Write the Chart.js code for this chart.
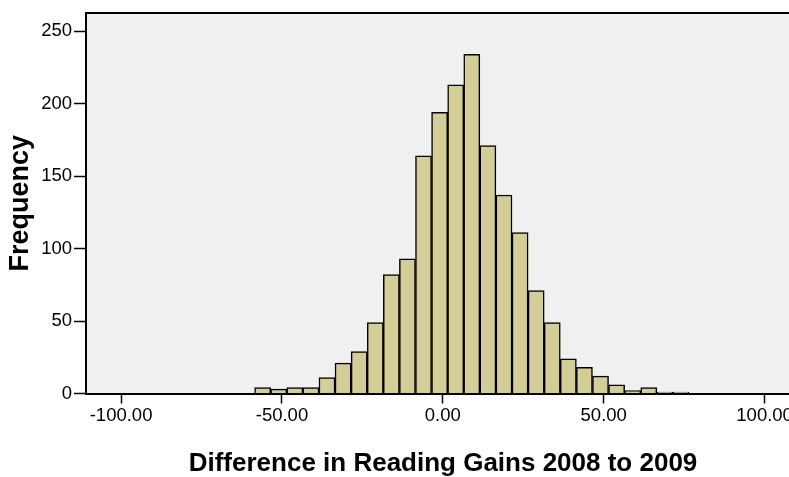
<!DOCTYPE html>
<html>
<head>
<meta charset="utf-8">
<script src="https://cdn.jsdelivr.net/npm/chart.js@4"></script>
<style>
  html, body { margin: 0; padding: 0; background: #fff; overflow: hidden; }
  canvas { display: block; }
</style>
</head>
<body>
<canvas id="histChart" width="810" height="477"></canvas>
<script>
// histogram bins (centre of each 5-point bin) and counts
const binCenters = [-56, -51, -46, -41, -36, -31, -26, -21, -16, -11, -6, -1, 4, 9,
                    14, 19, 24, 29, 34, 39, 44, 49, 54, 59, 64, 69, 74];
const frequencies = [4, 3, 4, 4, 11, 21, 29, 49, 82, 93, 164, 194, 213, 234,
                     171, 137, 111, 71, 49, 24, 18, 12, 6, 2, 4, 1, 1];
const xTickValues = [-100, -50, 0, 50, 100];
const yTickValues = [0, 50, 100, 150, 200, 250];

const FONT = "'Liberation Sans', Arial, sans-serif";

// grey plot background + top frame line
const plotFrame = {
    id: 'plotFrame',
    beforeDraw(chart) {
        const { ctx, chartArea: a } = chart;
        ctx.save();
        ctx.fillStyle = '#f0f0f0';
        ctx.fillRect(a.left, a.top, a.right - a.left, a.bottom - a.top);
        ctx.restore();
    },
    afterDraw(chart) {
        const { ctx, chartArea: a } = chart;
        ctx.save();
        ctx.strokeStyle = '#000';
        ctx.lineWidth = 2;
        ctx.beginPath();
        ctx.moveTo(a.left, a.top);
        ctx.lineTo(a.right, a.top);
        ctx.lineTo(a.right, a.bottom);
        ctx.stroke();
        ctx.restore();
    }
};

const ctx = document.getElementById('histChart').getContext('2d');
new Chart(ctx, {
    type: 'bar',
    data: {
        datasets: [{
            data: binCenters.map((x, i) => ({ x: x, y: frequencies[i] })),
            backgroundColor: '#d3ce98',
            borderColor: '#000',
            borderWidth: 1.5,
            barPercentage: 1,
            categoryPercentage: 1
        }]
    },
    options: {
        responsive: false,
        animation: false,
        devicePixelRatio: 1,
        layout: { padding: { top: 12, right: 10, left: 0, bottom: 0 } },
        plugins: { legend: { display: false }, tooltip: { enabled: false } },
        scales: {
            x: {
                type: 'linear',
                offset: false,
                min: -110.9,
                max: 111,
                afterFit: s => { s.height = 83.5; },
                afterBuildTicks: s => { s.ticks = xTickValues.map(v => ({ value: v })); },
                ticks: {
                    includeBounds: false,
                    color: '#000',
                    padding: 1,
                    maxRotation: 0,
                    font: { family: FONT, size: 18.5 },
                    callback: v => v.toFixed(2)
                },
                grid: { display: true, offset: false, drawOnChartArea: false, color: '#000', tickLength: 10, tickWidth: 1.5 },
                border: { display: true, color: '#000', width: 2 },
                title: {
                    display: true,
                    text: 'Difference in Reading Gains 2008 to 2009',
                    color: '#000',
                    font: { family: FONT, size: 26, weight: 'bold', lineHeight: 1 },
                    padding: { top: 0, bottom: 0 }
                }
            },
            y: {
                min: 0,
                max: 262.5,
                afterFit: s => { s.width = 86; },
                afterBuildTicks: s => { s.ticks = yTickValues.map(v => ({ value: v })); },
                ticks: {
                    includeBounds: false,
                    color: '#000',
                    padding: 2,
                    font: { family: FONT, size: 18.5 }
                },
                grid: { display: true, drawOnChartArea: false, color: '#000', tickLength: 12, tickWidth: 1.5 },
                border: { display: true, color: '#000', width: 2 },
                title: {
                    display: true,
                    text: 'Frequency',
                    color: '#000',
                    font: { family: FONT, size: 27, weight: 'bold', lineHeight: 1 },
                    padding: { top: 7, bottom: 0 }
                }
            }
        }
    },
    plugins: [plotFrame]
});
</script>
</body>
</html>
